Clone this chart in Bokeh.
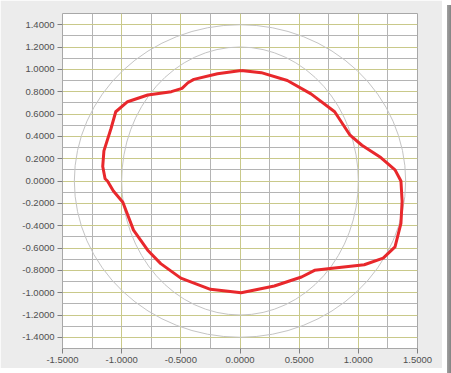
import numpy as np
from bokeh.plotting import figure
from bokeh.models import FixedTicker, NumeralTickFormatter, Range1d, Div
from bokeh.layouts import row
from bokeh.embed import file_html
from bokeh.resources import INLINE

# red measured contour (x, y), closed loop
contour_x = [0.01, 0.18, 0.40, 0.60, 0.80, 0.93, 1.03, 1.19, 1.31, 1.35, 1.36, 1.37, 1.36, 1.31,
             1.21, 1.05, 0.80, 0.63, 0.52, 0.29, 0.01, -0.25, -0.50, -0.67, -0.78, -0.90, -0.99,
             -1.07, -1.12, -1.14, -1.16, -1.15, -1.09, -1.05, -0.95, -0.78, -0.58, -0.49, -0.44,
             -0.39, -0.19, 0.01]
contour_y = [0.99, 0.97, 0.90, 0.78, 0.62, 0.41, 0.32, 0.21, 0.10, 0.02, 0.00, -0.18, -0.38, -0.59,
             -0.69, -0.75, -0.78, -0.80, -0.86, -0.94, -1.00, -0.97, -0.87, -0.74, -0.62, -0.44, -0.19,
             -0.09, 0.00, 0.02, 0.13, 0.27, 0.47, 0.62, 0.71, 0.77, 0.80, 0.83, 0.88,
             0.91, 0.96, 0.99]

# gray reference curves (semi-axes)
ref_rx = [1.0, 1.4]
ref_ry = [1.2, 1.4]

x_ticks = [-1.5, -1.0, -0.5, 0.0, 0.5, 1.0, 1.5]
x_minor = [-1.25, -0.75, -0.25, 0.25, 0.75, 1.25]
y_ticks = [-1.4, -1.2, -1.0, -0.8, -0.6, -0.4, -0.2, 0.0, 0.2, 0.4, 0.6, 0.8, 1.0, 1.2, 1.4]
y_minor = [-1.5, -1.3, -1.1, -0.9, -0.7, -0.5, -0.3, -0.1, 0.1, 0.3, 0.5, 0.7, 0.9, 1.1, 1.3, 1.5]

p = figure(width=442, height=368, output_backend="svg", toolbar_location=None,
           x_range=Range1d(-1.5, 1.5), y_range=Range1d(-1.5, 1.5),
           min_border_left=62, min_border_top=13, min_border_right=25, min_border_bottom=20)
p.border_fill_color = "#ececec"
p.background_fill_color = "white"
p.outline_line_color = "#a8a8a8"

for ax, ticks, minor in ((p.xaxis[0], x_ticks, x_minor), (p.yaxis[0], y_ticks, y_minor)):
    ax.ticker = FixedTicker(ticks=ticks, minor_ticks=minor)
    ax.formatter = NumeralTickFormatter(format="0.0000")
    ax.axis_line_color = None
    ax.major_tick_line_color = "#808080"
    ax.major_tick_out = 5
    ax.major_tick_in = 0
    ax.minor_tick_line_color = None
    ax.major_label_text_font = "Liberation Sans"
    ax.major_label_text_font_size = "9.5px"
    ax.major_label_text_color = "#505050"
    ax.major_label_standoff = 3

for g in (p.xgrid[0], p.ygrid[0]):
    g.grid_line_color = "#c9c98a"
    g.grid_line_width = 1
    g.minor_grid_line_color = "#b4b4b4"
    g.minor_grid_line_width = 1

p.ellipse(x=[0, 0], y=[0, 0], width=[2 * r for r in ref_rx], height=[2 * r for r in ref_ry],
          fill_color=None, line_color="#c4c4c4", line_width=1)

p.line(contour_x, contour_y, line_color="#e8282c", line_width=3, line_join="round")

edge = Div(width=9, height=368, text="",
           styles={"background": "linear-gradient(to right, #a0a0a0, #606060)"})

layout = row(p, edge, spacing=0)
open("out.html", "w").write(file_html(layout, INLINE))
